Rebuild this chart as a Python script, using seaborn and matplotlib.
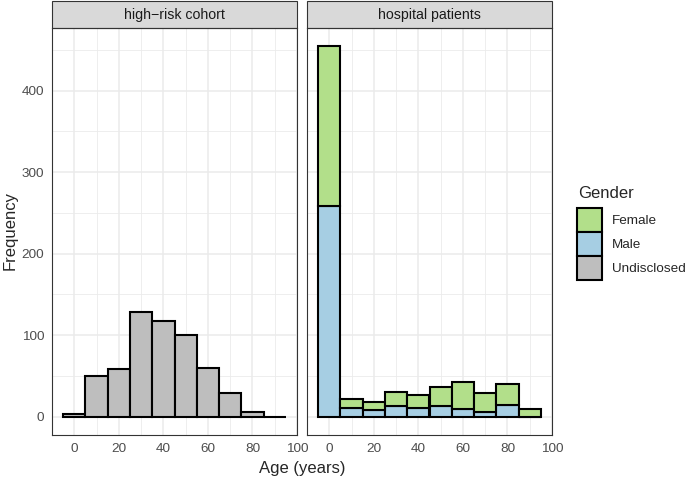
import matplotlib
matplotlib.use("Agg")
import matplotlib.pyplot as plt
from matplotlib.patches import Patch, Rectangle
from matplotlib.ticker import MultipleLocator
import pandas as pd
import seaborn as sns

# histogram counts, bins of 10 years centred on these ages
age_bins = [0, 10, 20, 30, 40, 50, 60, 70, 80, 90]
cohorts = ["high\u2212risk cohort", "hospital patients"]
genders = ["Female", "Male", "Undisclosed"]
highrisk_undisclosed = [3, 50, 58, 128, 117, 100, 60, 29, 5, 0]
hospital_female = [196, 11, 10, 17, 16, 23, 33, 23, 26, 9]
hospital_male = [258, 10, 8, 13, 10, 13, 9, 6, 14, 0]
gender_colours = {"Female": "#B2DF8A", "Male": "#A6CEE3", "Undisclosed": "#BEBEBE"}

rows = []
for cohort, gender, counts in [(cohorts[0], "Undisclosed", highrisk_undisclosed),
                               (cohorts[1], "Female", hospital_female),
                               (cohorts[1], "Male", hospital_male)]:
    for age, n in zip(age_bins, counts):
        rows.append({"cohort": cohort, "gender": gender, "age": age, "count": n})
df = pd.DataFrame(rows)

sns.set_style("white")
plt.rcParams["font.family"] = ["Liberation Sans", "DejaVu Sans"]

W, H = 685, 479
fig = plt.figure(figsize=(W / 100, H / 100), dpi=100)

# y range with ggplot style 5% expansion
ymax = df.groupby(["cohort", "age"])["count"].sum().max()
ylim = (-0.05 * ymax, 1.05 * ymax)

panel_left = [52, 307]
panel_w = 245
top, bottom = 28, 435
strip_h = 27 / (bottom - top)
edge_lw = 1.5

axes = []
for i, cohort in enumerate(cohorts):
    ax = fig.add_axes([panel_left[i] / W, 1 - bottom / H, panel_w / W, (bottom - top) / H])
    sub = df[df["cohort"] == cohort]
    present = [g for g in genders if g in sub["gender"].unique()]
    sns.histplot(data=sub, x="age", weights="count", hue="gender", hue_order=present,
                 multiple="stack", binwidth=10, binrange=(-5, 95), palette=gender_colours,
                 alpha=1, edgecolor="black", linewidth=edge_lw, legend=False, ax=ax)
    ax.set_xlim(-10, 100)
    ax.set_ylim(*ylim)
    ax.xaxis.set_major_locator(MultipleLocator(20))
    ax.xaxis.set_minor_locator(MultipleLocator(10))
    ax.yaxis.set_major_locator(MultipleLocator(100))
    ax.yaxis.set_minor_locator(MultipleLocator(50))
    ax.set_axisbelow(True)
    ax.grid(which="major", color="#EBEBEB", linewidth=1.1)
    ax.grid(which="minor", color="#EBEBEB", linewidth=0.6)
    ax.tick_params(which="minor", length=0)
    ax.tick_params(which="major", length=3, width=0.75, color="#333333",
                   labelsize=9.7, labelcolor="#4D4D4D", pad=2.5)
    ax.set_xlabel("")
    ax.set_ylabel("")
    for s in ax.spines.values():
        s.set_visible(True)
        s.set_color("#333333")
        s.set_linewidth(0.8)
    if i > 0:
        ax.tick_params(axis="y", left=False, labelleft=False)
    # facet strip
    ax.add_patch(Rectangle((0, 1), 1, strip_h, transform=ax.transAxes, clip_on=False,
                           facecolor="#D9D9D9", edgecolor="#333333", linewidth=0.8))
    ax.text(0.5, 1 + strip_h / 2, cohort, transform=ax.transAxes, ha="center", va="center",
            fontsize=10.2, color="#1A1A1A")
    axes.append(ax)

fig.text(302 / W, 1 - 469 / H, "Age (years)", ha="center", va="center", fontsize=12)
fig.text(10 / W, 1 - 231 / H, "Frequency", ha="center", va="center", rotation=90, fontsize=12)

# legend, title drawn separately to get the ggplot gap above the keys
fig.text(578 / W, 1 - 193 / H, "Gender", ha="left", va="center", fontsize=12)
handles = [Patch(facecolor=gender_colours[g], edgecolor="black", linewidth=edge_lw) for g in genders]
fig.legend(handles, genders, loc="upper left",
           bbox_to_anchor=(577 / W, 1 - 208 / H), frameon=False, fontsize=9.7,
           handlelength=1.85, handleheight=2.36,
           labelspacing=0, handletextpad=0.75, borderpad=0, borderaxespad=0)

fig.savefig("out.png", dpi=100)
